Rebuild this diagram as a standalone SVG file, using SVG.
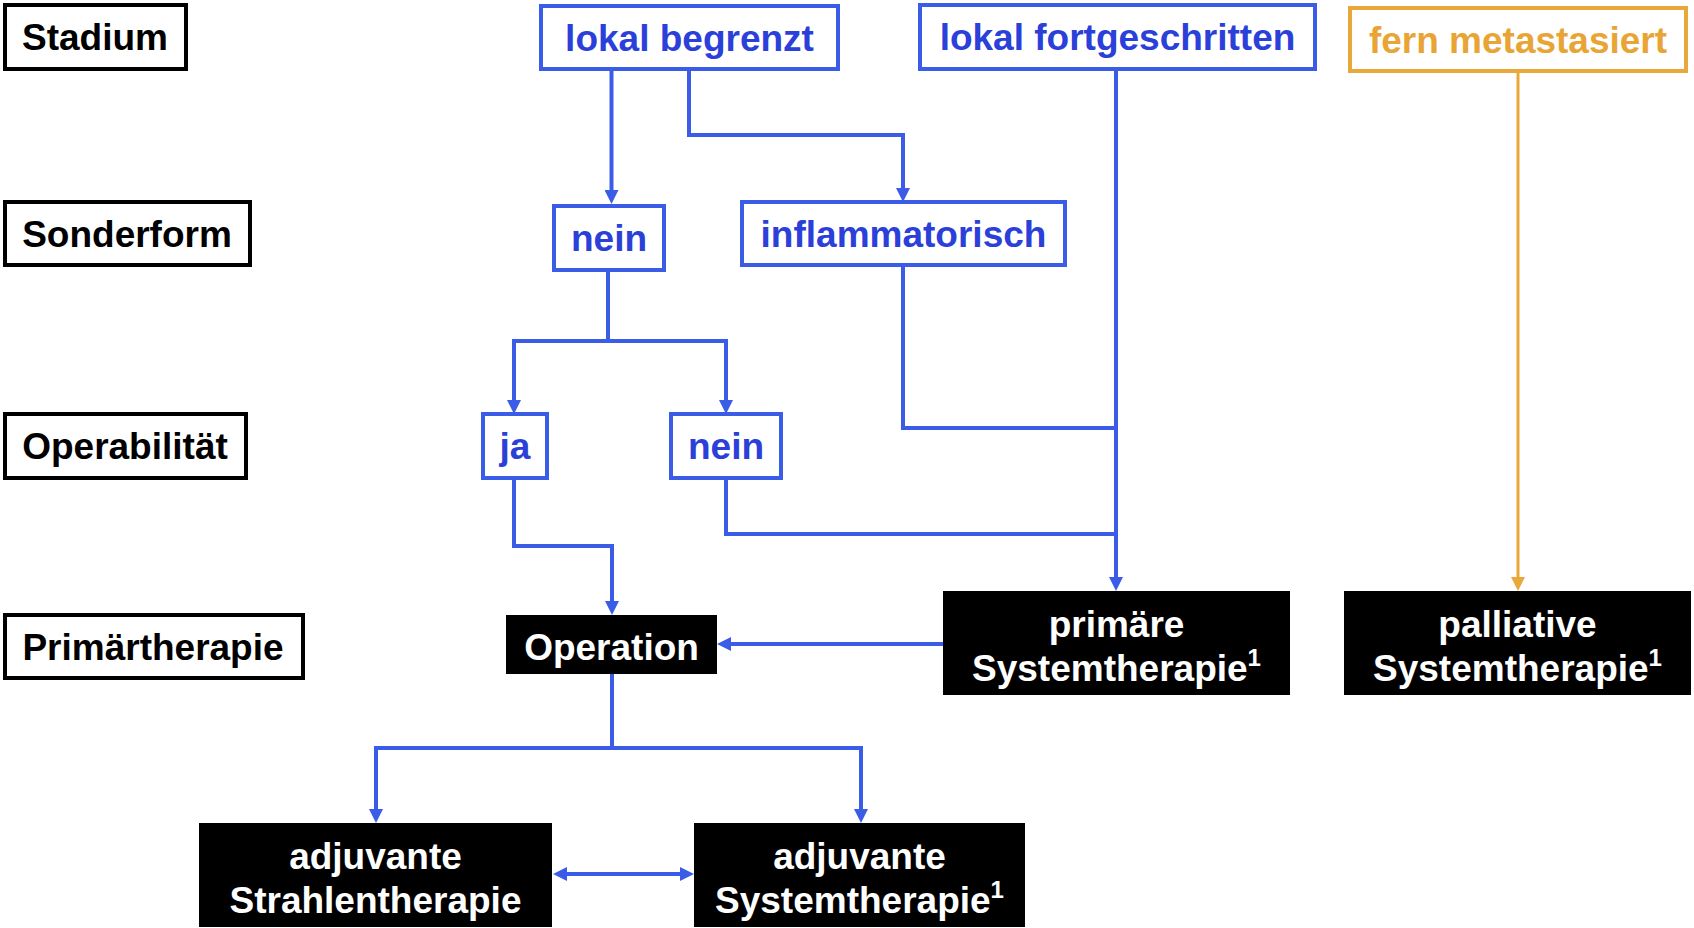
<svg xmlns="http://www.w3.org/2000/svg" width="1694" height="928" viewBox="0 0 1694 928">
<defs>
<style>
text{font-family:"Liberation Sans",Arial,sans-serif;font-weight:bold;font-size:37px;text-anchor:middle}
.lab rect{fill:#fff;stroke:#000;stroke-width:4}
.lab text{fill:#000}
.blu rect{fill:#fff;stroke:#3B5CE6;stroke-width:4}
.blu text{fill:#2B40D9}
.org rect{fill:#fff;stroke:#E9A83A;stroke-width:4}
.org text{fill:#E8A535}
.blk rect{fill:#000}
.blk text{fill:#fff}
.sup{font-size:24px}
.c{fill:none;stroke:#3B5CE6;stroke-width:4}
.co{fill:none;stroke:#E9A83A;stroke-width:3}
</style>
<marker id="ab" markerUnits="userSpaceOnUse" markerWidth="14" markerHeight="14" refX="6" refY="7" orient="auto-start-reverse" viewBox="0 0 14 14">
<path d="M0,0 L14,7 L0,14 z" fill="#3B5CE6"/>
</marker>
<marker id="ao" markerUnits="userSpaceOnUse" markerWidth="14" markerHeight="14" refX="6" refY="7" orient="auto" viewBox="0 0 14 14">
<path d="M0,0 L14,7 L0,14 z" fill="#E9A83A"/>
</marker>
</defs>
<rect width="1694" height="928" fill="#fff"/>

<g id="connectors">
<path class="c" d="M611.5,71 V196" marker-end="url(#ab)"/>
<path class="c" d="M689,71 V135 H903 V194" marker-end="url(#ab)"/>
<path class="c" d="M608,272 V341"/>
<path class="c" d="M514,406 V341 H726 V406" marker-start="url(#ab)" marker-end="url(#ab)"/>
<path class="c" d="M903,267 V428 H1116"/>
<path class="c" d="M1116,71 V583" marker-end="url(#ab)"/>
<path class="c" d="M726,480 V534 H1116"/>
<path class="c" d="M514,480 V546 H612 V607" marker-end="url(#ab)"/>
<path class="c" d="M943,644 H725" marker-end="url(#ab)"/>
<path class="c" d="M612,674 V748"/>
<path class="c" d="M376,815 V748 H861 V815" marker-start="url(#ab)" marker-end="url(#ab)"/>
<path class="c" d="M561,874 H686" marker-start="url(#ab)" marker-end="url(#ab)"/>
<path class="co" d="M1518,73 V583" marker-end="url(#ao)"/>
</g>

<g id="label-stadium" class="lab"><rect x="5" y="5" width="181" height="64"/><text x="95" y="50">Stadium</text></g>
<g id="label-sonderform" class="lab"><rect x="5" y="202" width="245" height="63"/><text x="127" y="247">Sonderform</text></g>
<g id="label-operabilitaet" class="lab"><rect x="5" y="414" width="241" height="64"/><text x="125" y="459">Operabilität</text></g>
<g id="label-primaertherapie" class="lab"><rect x="5" y="615" width="298" height="63"/><text x="153" y="660">Primärtherapie</text></g>

<g id="lokal-begrenzt" class="blu"><rect x="541" y="6" width="297" height="63"/><text x="689.5" y="51">lokal begrenzt</text></g>
<g id="lokal-fortgeschritten" class="blu"><rect x="920" y="5" width="395" height="64"/><text x="1117.5" y="50">lokal fortgeschritten</text></g>
<g id="fern-metastasiert" class="org"><rect x="1350" y="8" width="336" height="63"/><text x="1518" y="53">fern metastasiert</text></g>

<g id="sonderform-nein" class="blu"><rect x="554" y="206" width="110" height="64"/><text x="609" y="251">nein</text></g>
<g id="inflammatorisch" class="blu"><rect x="742" y="202" width="323" height="63"/><text x="903.5" y="247">inflammatorisch</text></g>

<g id="op-ja" class="blu"><rect x="483" y="414" width="64" height="64"/><text x="515" y="459">ja</text></g>
<g id="op-nein" class="blu"><rect x="671" y="414" width="110" height="64"/><text x="726" y="459">nein</text></g>

<g id="operation" class="blk"><rect x="506" y="615" width="211" height="59"/><text x="611.5" y="660">Operation</text></g>
<g id="primaere-systemtherapie" class="blk"><rect x="943" y="591" width="347" height="104"/><text x="1116.5" y="637">primäre</text><text x="1116.5" y="681">Systemtherapie<tspan class="sup" dy="-15">1</tspan></text></g>
<g id="palliative-systemtherapie" class="blk"><rect x="1344" y="591" width="347" height="104"/><text x="1517.5" y="637">palliative</text><text x="1517.5" y="681">Systemtherapie<tspan class="sup" dy="-15">1</tspan></text></g>

<g id="adjuvante-strahlentherapie" class="blk"><rect x="199" y="823" width="353" height="104"/><text x="375.5" y="869">adjuvante</text><text x="375.5" y="913">Strahlentherapie</text></g>
<g id="adjuvante-systemtherapie" class="blk"><rect x="694" y="823" width="331" height="104"/><text x="859.5" y="869">adjuvante</text><text x="859.5" y="913">Systemtherapie<tspan class="sup" dy="-15">1</tspan></text></g>
</svg>
